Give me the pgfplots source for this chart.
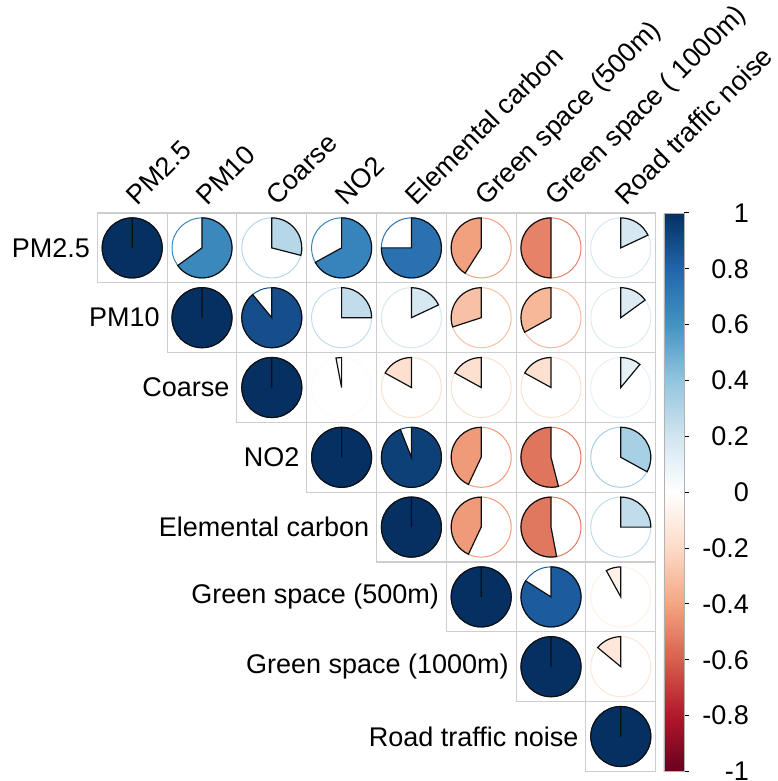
\documentclass[border=0pt]{standalone}
\usepackage{pgfplots}
\pgfplotsset{compat=1.18}
\usepackage{pgfplotstable}
\usepackage{fontspec}
\setmainfont{Liberation Sans}
\definecolor{gridgray}{RGB}{205,205,205}
\definecolor{wedgeline}{RGB}{15,15,15}
\pgfplotstableread{
x y r
1 1 1
2 1 0.65
3 1 0.29
4 1 0.67
5 1 0.75
6 1 -0.41
7 1 -0.50
8 1 0.18
2 2 1
3 2 0.89
4 2 0.25
5 2 0.18
6 2 -0.30
7 2 -0.33
8 2 0.15
3 3 1
4 3 -0.03
5 3 -0.17
6 3 -0.17
7 3 -0.17
8 3 0.11
4 4 1
5 4 0.94
6 4 -0.43
7 4 -0.54
8 4 0.33
5 5 1
6 5 -0.43
7 5 -0.53
8 5 0.25
6 6 1
7 6 0.84
8 6 -0.08
7 7 1
8 7 -0.14
8 8 1
}\corrdata
\pgfdeclareplotmark{corrpie}{%
  \pgfsetlinewidth{0.55pt}%
  \pgfsetstrokecolor{gridgray}%
  \pgfpathrectanglecorners{\pgfpoint{-17.45pt}{-17.45pt}}{\pgfpoint{17.45pt}{17.45pt}}%
  \pgfusepath{stroke}%
  \pgfsetlinewidth{0.5pt}%
  \pgfsetstrokecolor{mapped color}%
  \pgfpathcircle{\pgfpointorigin}{15pt}%
  \pgfusepath{stroke}%
  \pgfsetlinewidth{0.6pt}%
  \pgfsetstrokecolor{wedgeline}%
  \pgfsetfillcolor{mapped color}%
  \pgfmathsetmacro\pieend{90-360*\rv}%
  \pgfpathmoveto{\pgfpointorigin}%
  \pgfpathlineto{\pgfpointpolar{90}{15pt}}%
  \pgfpatharc{90}{\pieend}{15pt}%
  \pgfpathclose
  \pgfusepath{fill,stroke}%
}
\newcommand\lf{\fontsize{13.5}{15}\selectfont}
\tikzset{rowlab/.style={anchor=east, font=\lf, inner sep=0pt, xshift=-3.5pt},
         collab/.style={xshift=2.5pt, yshift=3pt, anchor=base west, rotate=45, font=\lf, inner sep=0pt}}
\begin{document}
\begin{tikzpicture}
\begin{axis}[
  name=main,
  scale only axis, width=279.2pt, height=279.2pt,
  xmin=0.5, xmax=8.5, ymin=0.5, ymax=8.5, y dir=reverse,
  hide axis, clip=false,
  colormap={rdbu}{rgb255=(103,0,31) rgb255=(178,24,43) rgb255=(214,96,77) rgb255=(244,165,130) rgb255=(253,219,199) rgb255=(255,255,255) rgb255=(209,229,240) rgb255=(146,197,222) rgb255=(67,147,195) rgb255=(33,102,172) rgb255=(5,48,97)},
  point meta min=-1, point meta max=1,
  colorbar,
  colorbar style={
    at={(parent axis.north east)}, anchor=north west, xshift=-4.4pt,
    scale only axis, width=10pt, height=279.2pt,
    ytick={-1,-0.8,-0.6,-0.4,-0.2,0,0.2,0.4,0.6,0.8,1},
    yticklabels={-1,-0.8,-0.6,-0.4,-0.2,0,0.2,0.4,0.6,0.8,1},
    yticklabel style={font=\fontsize{13.5}{15}\selectfont, anchor=east, xshift=33.5pt},
    ytick pos=right, tick align=outside, major tick length=2.5pt,
    tick style={black, line width=0.5pt},
    axis line style={gray!60},
  },
]
\coordinate (TL) at (axis cs:0.5,0.5);
\addplot[scatter, only marks, mark=corrpie, point meta=\thisrow{r},
  visualization depends on={\thisrow{r} \as \rv}] table[x=x, y=y] {\corrdata};
\node[rowlab] at (axis cs:0.5,1) {PM2.5};
\node[rowlab] at (axis cs:1.5,2) {PM10};
\node[rowlab] at (axis cs:2.5,3) {Coarse};
\node[rowlab] at (axis cs:3.5,4) {NO2};
\node[rowlab] at (axis cs:4.5,5) {Elemental carbon};
\node[rowlab] at (axis cs:5.5,6) {Green space (500m)};
\node[rowlab] at (axis cs:6.5,7) {Green space (1000m)};
\node[rowlab] at (axis cs:7.5,8) {Road traffic noise};
\node[collab] at (axis cs:1,0.5) {PM2.5};
\node[collab] at (axis cs:2,0.5) {PM10};
\node[collab] at (axis cs:3,0.5) {Coarse};
\node[collab] at (axis cs:4,0.5) {NO2};
\node[collab] at (axis cs:5,0.5) {Elemental carbon};
\node[collab] at (axis cs:6,0.5) {Green space (500m)};
\node[collab] at (axis cs:7,0.5) {Green space ( 1000m)};
\node[collab] at (axis cs:8,0.5) {Road traffic noise};
\end{axis}
\pgfresetboundingbox
\path ([shift={(-48.65pt,106.5pt)}]TL) rectangle ([shift={(339.85pt,-284pt)}]TL);
\end{tikzpicture}
\end{document}
